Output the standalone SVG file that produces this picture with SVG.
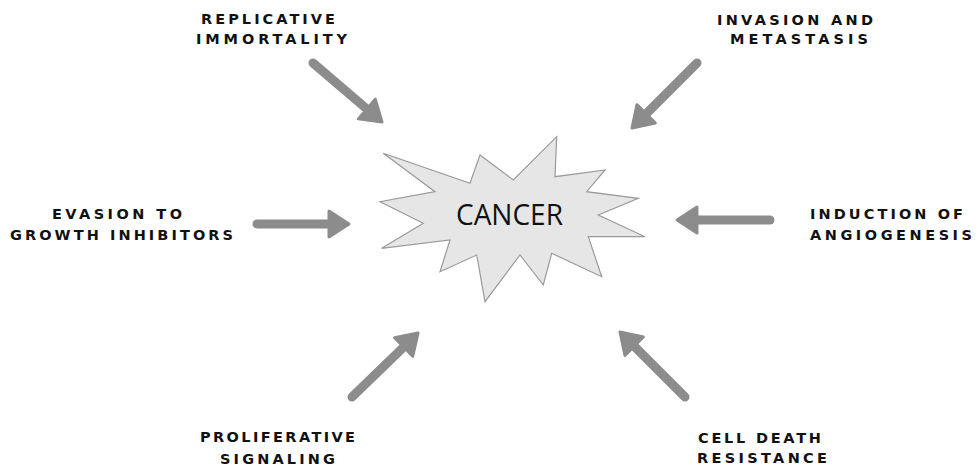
<svg xmlns="http://www.w3.org/2000/svg" width="979" height="467" viewBox="0 0 979 467">
<style>
.lbl{font-family:"DejaVu Sans","Liberation Sans",Arial,sans-serif;font-weight:bold;font-size:14.5px;fill:#111}
.conn{fill:none;stroke:#8c8c8c;stroke-width:9;stroke-linecap:round;marker-end:url(#head)}
.burst{fill:#e6e6e6;stroke:#9a9a9a;stroke-width:1.2;stroke-linejoin:miter}
.core{font-family:"Open Sans","Liberation Sans",Arial,sans-serif;font-size:30px;fill:#111}
</style>
<defs>
<marker id="head" markerUnits="userSpaceOnUse" viewBox="-3 -3 26 32" markerWidth="26" markerHeight="32" refX="8" refY="13" orient="auto">
<path d="M0,0 L20,13 L0,26 Z" fill="#8c8c8c" stroke="#8c8c8c" stroke-width="3" stroke-linejoin="round"/>
</marker>
</defs>
<rect width="979" height="467" fill="#ffffff"/>
<g id="connectors">
<path class="conn" d="M313,63 L372.9,114.2"/>
<path class="conn" d="M697,63 L640.5,119.5"/>
<path class="conn" d="M257,224 L337,224"/>
<path class="conn" d="M770,220 L689,220"/>
<path class="conn" d="M352,397 L409.4,341.4"/>
<path class="conn" d="M685,397 L628.5,340.5"/>
</g>
<g id="cancer">
<polygon class="burst" points="383.3,153.3 470,183.3 480,155 513.3,180 556.7,136.7 555,176.7 605,170 586.7,191.7 638.3,198.3 598.3,215 645,236.7 588.3,236.7 601.7,276.7 551.7,253.3 543.3,285 520,255 485,301.7 476.7,255 440,271.7 450,240 381.7,248.3 423.3,223.3 380,201.7 435,191.7"/>
<text class="core" x="456" y="225" textLength="107" lengthAdjust="spacingAndGlyphs">CANCER</text>
</g>
<g id="replicative">
<text class="lbl" x="201" y="24" textLength="134" lengthAdjust="spacing">REPLICATIVE</text>
<text class="lbl" x="196" y="44" textLength="151" lengthAdjust="spacing">IMMORTALITY</text>
</g>
<g id="invasion">
<text class="lbl" x="717" y="25" textLength="156" lengthAdjust="spacing">INVASION AND</text>
<text class="lbl" x="730" y="44" textLength="138" lengthAdjust="spacing">METASTASIS</text>
</g>
<g id="evasion">
<text class="lbl" x="52" y="219" textLength="130" lengthAdjust="spacing">EVASION TO</text>
<text class="lbl" x="10" y="240" textLength="223" lengthAdjust="spacing">GROWTH INHIBITORS</text>
</g>
<g id="induction">
<text class="lbl" x="810" y="219" textLength="153" lengthAdjust="spacing">INDUCTION OF</text>
<text class="lbl" x="810" y="240" textLength="162" lengthAdjust="spacing">ANGIOGENESIS</text>
</g>
<g id="proliferative">
<text class="lbl" x="200" y="442" textLength="155" lengthAdjust="spacing">PROLIFERATIVE</text>
<text class="lbl" x="220" y="464" textLength="115" lengthAdjust="spacing">SIGNALING</text>
</g>
<g id="celldeath">
<text class="lbl" x="698" y="443" textLength="123" lengthAdjust="spacing">CELL DEATH</text>
<text class="lbl" x="697" y="463" textLength="130" lengthAdjust="spacing">RESISTANCE</text>
</g>
</svg>
